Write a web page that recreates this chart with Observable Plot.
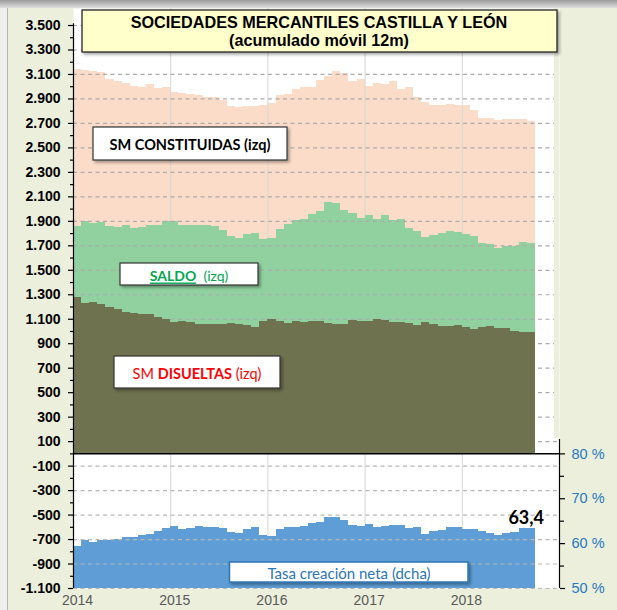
<!DOCTYPE html>
<html><head><meta charset="utf-8">
<script src="https://cdn.jsdelivr.net/npm/d3@7"></script>
<script src="https://cdn.jsdelivr.net/npm/@observablehq/plot@0.6"></script>
<style>
html,body{margin:0;padding:0;background:#fff;}
#chart{width:617px;height:610px;}
svg{display:block;}
</style></head>
<body><div id="chart"></div>
<script>
// ---- data (monthly, Jan 2014 .. Sep 2018, 12-month moving sums) ----
const years = ["2014", "2015", "2016", "2017", "2018"];
const constituidas = [3140,3130,3125,3120,3055,3040,3030,3005,2995,3015,2985,2995,
  2955,2945,2935,2925,2915,2915,2890,2840,2830,2840,2840,2845,
  2865,2925,2935,2975,2990,2995,3050,3085,3125,3110,3045,3055,
  3005,3030,3015,3045,2980,2995,2915,2870,2845,2850,2855,2850,
  2850,2805,2740,2740,2725,2730,2732,2728,2715];
const saldo = [1855,1895,1882,1887,1858,1852,1862,1842,1852,1868,1870,1896,
  1900,1862,1862,1868,1862,1860,1825,1775,1757,1795,1800,1752,
  1758,1835,1877,1904,1915,1958,1983,2051,2045,1985,1964,1925,
  1950,1915,1950,1910,1915,1842,1815,1768,1787,1801,1815,1809,
  1795,1773,1719,1711,1678,1692,1697,1730,1722];
const disueltas = [1278,1228,1238,1218,1192,1182,1158,1148,1135,1138,1112,1098,
  1072,1085,1075,1060,1058,1058,1060,1063,1060,1047,1033,1085,
  1098,1079,1066,1079,1074,1079,1079,1066,1060,1058,1093,1079,
  1082,1098,1093,1071,1076,1066,1047,1071,1060,1039,1044,1050,
  1030,1017,1033,1039,1025,1025,1003,992,988];
const tasa = [59.3,60.8,60.3,60.6,60.8,60.9,61.4,61.4,61.8,62.1,62.6,63.4,
  63.9,63.2,63.4,63.9,63.7,63.7,63.4,62.4,62.2,63.2,63.5,61.7,
  61.5,63.2,63.7,63.7,63.9,64.5,64.7,65.8,65.8,65.1,64.1,63.9,
  64.2,63.5,63.9,64.1,64.0,63.4,63.5,62.1,62.6,63.0,63.7,63.5,
  63.2,63.1,62.8,62.3,61.7,62.3,62.4,63.4,63.4];
const leftTicks = [3500,3300,3100,2900,2700,2500,2300,2100,1900,1700,1500,1300,1100,900,700,500,300,100,-100,-300,-500,-700,-900,-1100];
const rightTicks = [80, 70, 60, 50];
const rightMinor = [75, 65, 55];
const rightAxisTop = 83.2;
const monthsShown = 60; // 2014..2018

// ---- helpers ----
const leftMin = -1100, leftTop = 3639;
// right axis: 80 % sits on 0, 50 % sits on -1.100
const toLeft = p => (p - 80) * (1100 / 30);
const fmtLeft = v => {
  const a = String(Math.abs(v));
  const s = a.length > 3 ? a.slice(0, a.length - 3) + "." + a.slice(-3) : a;
  return (v < 0 ? "-" : "") + s;
};
const rows = constituidas.map((c, i) => ({i, i1: i + 1, c, s: saldo[i], d: disueltas[i], t: tasa[i], tl: toLeft(tasa[i])}));
const last = rows[rows.length - 1];
const minorLeft = leftTicks.slice(1).map(v => v + 100);
const upperGrid = leftTicks.filter(v => v > 0);
const lowerGrid = leftTicks.filter(v => v < 0);
const yearStarts = years.map((_, k) => k * 12);

const C = {peach: "#FBDCC8", green: "#90D19F", brown: "#6E724F", blue: "#5E9DD6", grid: "#ababab", bg: "#EBEFDC"};
const noText = () => "";

const chart = Plot.plot({
  width: 617, height: 610,
  marginLeft: 73, marginRight: 58, marginTop: 8, marginBottom: 22,
  style: {fontFamily: "'Liberation Sans', Arial, sans-serif", fontSize: "14px", background: C.bg, overflow: "visible"},
  x: {type: "linear", domain: [0, monthsShown], label: null},
  y: {domain: [leftMin, leftTop], label: null},
  marks: [
    Plot.frame({fill: "white", stroke: null}),
    Plot.rect(rows, {x1: "i", x2: "i1", y1: () => 0, y2: "c", fill: C.peach, shapeRendering: "crispEdges"}),
    Plot.ruleX(yearStarts.slice(1), {stroke: "#d6d6d6", strokeWidth: 1}),
    Plot.rect(rows, {x1: "i", x2: "i1", y1: () => 0, y2: "s", fill: C.green, shapeRendering: "crispEdges"}),
    Plot.ruleY(upperGrid, {stroke: C.grid, strokeDasharray: "4,3.5", strokeWidth: 1.2}),
    Plot.rect(rows, {x1: "i", x2: "i1", y1: () => 0, y2: "d", fill: C.brown, shapeRendering: "crispEdges"}),
    Plot.rect(rows, {x1: "i", x2: "i1", y1: () => leftMin, y2: "tl", fill: C.blue, shapeRendering: "crispEdges"}),
    Plot.ruleY(lowerGrid, {stroke: "#b8b8b8", strokeDasharray: "4,3.5", strokeWidth: 1.2}),
    Plot.ruleY([0], {stroke: "black", strokeWidth: 1.5}),
    // left axis
    Plot.ruleX([0], {y1: () => leftMin, y2: () => leftTicks[0] + 15, stroke: "black", strokeWidth: 1.2}),
    Plot.axisY(leftTicks, {anchor: "left", tickSize: 5, tickPadding: 8, tickFormat: fmtLeft, fontSize: 14, fontWeight: "bold", color: "black", strokeWidth: 1.2}),
    Plot.axisY(minorLeft, {anchor: "left", tickSize: 3, tickFormat: noText, stroke: "black", strokeWidth: 1.2}),
    // right axis
    Plot.ruleX([monthsShown], {y1: () => toLeft(rightTicks[rightTicks.length - 1]), y2: () => toLeft(rightAxisTop), stroke: "black", strokeWidth: 1.2}),
    Plot.axisY(rightTicks.map(toLeft), {anchor: "right", tickSize: 5, tickPadding: 7, tickFormat: v => Math.round(80 + v * 30 / 1100) + " %", fontSize: 14.5, fill: "#2878C2", stroke: "black", strokeWidth: 1.2}),
    Plot.axisY(rightMinor.map(toLeft), {anchor: "right", tickSize: 4, tickFormat: noText, stroke: "black", strokeWidth: 1.2}),
    // x axis labels
    Plot.axisX(yearStarts.map(v => v + 0.5), {anchor: "bottom", tickSize: 0, tickPadding: 7, tickFormat: d => years[Math.round((d - 0.5) / 12)], fontSize: 14, fill: "#595959"}),
    // last value label
    Plot.text([last], {x: d => d.i + 0.5, y: "tl", text: d => d.t.toFixed(1).replace(".", ","), dx: -5, dy: -4, lineAnchor: "bottom", fontFamily: "Lato, sans-serif", fontWeight: "bold", fontSize: 18, fill: "black"})
  ]
});
document.getElementById("chart").appendChild(chart);

// ---- decorations / annotation boxes ----
const svg = d3.select(chart);
const defs = svg.append("defs");
const f = defs.append("filter").attr("id", "sh").attr("x", "-10%").attr("y", "-20%").attr("width", "130%").attr("height", "160%");
f.append("feDropShadow").attr("dx", 2).attr("dy", 2).attr("stdDeviation", 1.5).attr("flood-color", "#000").attr("flood-opacity", 0.35);
const g = defs.append("linearGradient").attr("id", "topband").attr("x1", 0).attr("x2", 0).attr("y1", 0).attr("y2", 1);
g.append("stop").attr("offset", "0%").attr("stop-color", "#9c9c9c");
g.append("stop").attr("offset", "100%").attr("stop-color", "#dedede");

const bg = svg.insert("g", ":first-child");
bg.append("rect").attr("x", 0).attr("y", 0).attr("width", 617).attr("height", 610).attr("fill", C.bg);
const fr = svg.append("g");
fr.append("rect").attr("x", 0).attr("y", 0).attr("width", 617).attr("height", 8).attr("fill", "url(#topband)");
fr.append("rect").attr("x", 0).attr("y", 8).attr("width", 7).attr("height", 602).attr("fill", "#efefef");
fr.append("line").attr("x1", 7.5).attr("x2", 7.5).attr("y1", 8).attr("y2", 610).attr("stroke", "#b5b5b5");
// beige strip right of the upper plot area
fr.append("rect").attr("x", 554).attr("y", 8).attr("width", 5).attr("height", 430).attr("fill", C.bg);

const ann = svg.append("g");
function box(x, y, w, h, fill, stroke, sw) {
  ann.append("rect").attr("x", x).attr("y", y).attr("width", w).attr("height", h)
    .attr("fill", fill).attr("stroke", stroke).attr("stroke-width", sw).attr("filter", "url(#sh)");
}
// title
box(82, 10, 475, 42, "#FFFFCC", "#222", 1.3);
const t = ann.append("text").attr("text-anchor", "middle").attr("font-family", "'Liberation Sans', Arial, sans-serif")
  .attr("font-weight", "bold").attr("font-size", 16.2).attr("fill", "black");
t.append("tspan").attr("x", 319).attr("y", 27.5).text("SOCIEDADES MERCANTILES CASTILLA Y LEÓN");
t.append("tspan").attr("x", 319).attr("y", 45.5).text("(acumulado móvil 12m)");

const lab = (x, y) => ann.append("text").attr("x", x).attr("y", y).attr("text-anchor", "middle")
  .attr("dominant-baseline", "central").attr("font-family", "Lato, sans-serif");
// constituidas
box(93, 127, 194, 33, "white", "#333", 1.2);
lab(190, 144).attr("font-size", 14.5).attr("font-weight", "bold").attr("fill", "black").text("SM CONSTITUIDAS (izq)");
// saldo
box(120, 263, 138, 22, "white", "#333", 1.2);
const ts = lab(189, 274.5).attr("font-size", 14).attr("fill", "#00A650");
ts.append("tspan").attr("font-weight", "bold").attr("text-decoration", "underline").text("SALDO");
ts.append("tspan").text("\u00a0 (izq)");
// disueltas
box(114, 356, 166, 32, "white", "#333", 1.2);
const td = lab(197, 372.5).attr("font-size", 14.5).attr("fill", "#FF0000");
td.append("tspan").text("SM ");
td.append("tspan").attr("font-weight", "bold").text("DISUELTAS");
td.append("tspan").text(" (izq)");
// tasa
box(229.5, 562, 238.5, 20, "white", "#2E75B6", 1.5);
lab(349, 572.5).attr("font-size", 15).attr("fill", "#2E75B6").text("Tasa creación neta (dcha)");
</script>
</body></html>
